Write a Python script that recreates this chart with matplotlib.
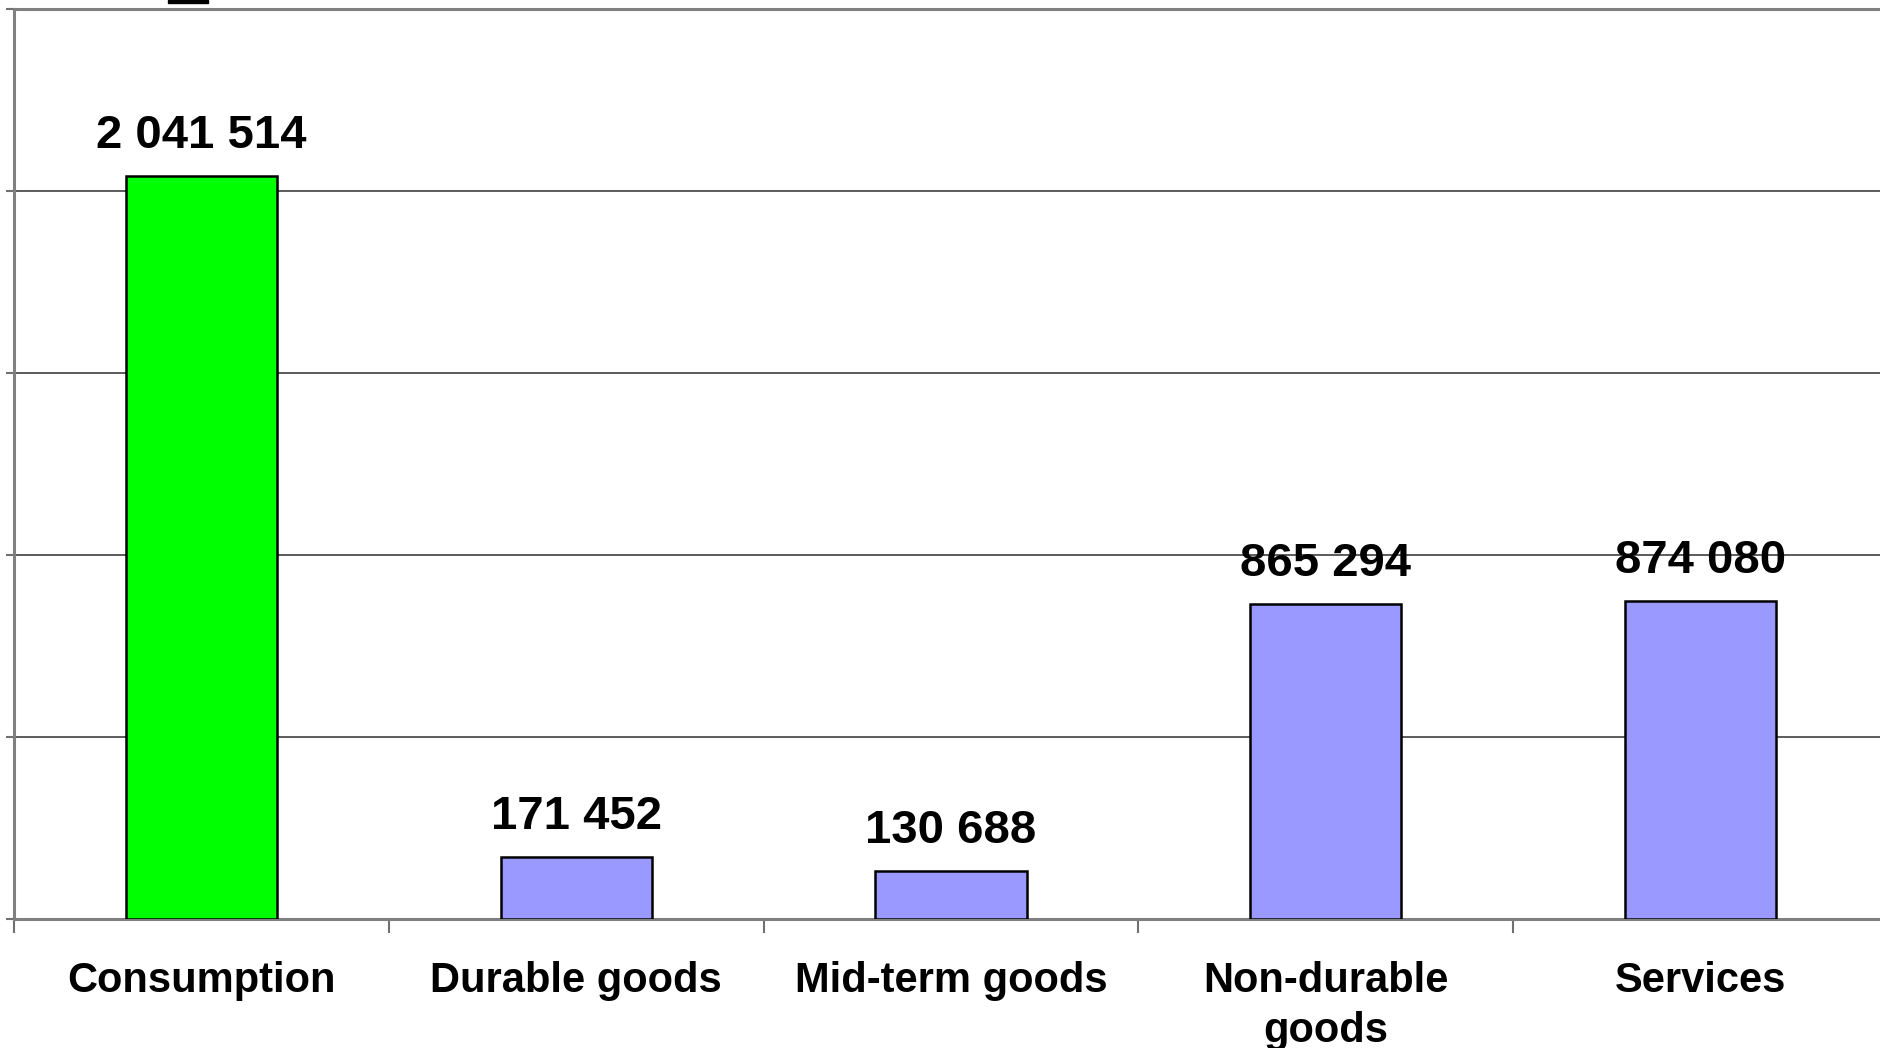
import matplotlib
matplotlib.use("Agg")
import numpy as np
import matplotlib.pyplot as plt
from matplotlib.patches import Rectangle

# data
categories = ["Consumption", "Durable goods", "Mid-term goods", "Non-durable\ngoods", "Services"]
values = [2041514, 171452, 130688, 865294, 874080]
bar_colors = ["#00FF00", "#9999FF", "#9999FF", "#9999FF", "#9999FF"]
y_ticks = [0, 500000, 1000000, 1500000, 2000000, 2500000]

plt.rcParams['font.family'] = ['Liberation Sans', 'DejaVu Sans']

fig = plt.figure(figsize=(18.8, 10.48), dpi=100)
ax = fig.add_axes([14 / 1880, 129 / 1048, 1874 / 1880, 910 / 1048])

x = np.arange(len(categories))
bars = ax.bar(x, values, width=0.403, color=bar_colors, edgecolor="black", linewidth=1.8, zorder=3)

# value labels above bars
for xi, v in zip(x, values):
    ax.annotate(f"{v:,}".replace(",", " "), (xi, v), xytext=(0, 13), textcoords="offset points",
                ha="center", va="bottom", fontsize=34, fontweight="bold", zorder=4)

ax.set_xlim(-0.5, len(categories) - 0.5)
ax.set_ylim(0, y_ticks[-1])

# grid & axes
ax.set_yticks(y_ticks)
ax.set_yticklabels([])
ax.yaxis.grid(True, color="#404040", linewidth=1.2, zorder=0)
ax.tick_params(axis="y", direction="out", length=6, width=1.5, color="#707070")

# category boundaries get the tick marks, labels go in the middle
ax.set_xticks(np.arange(len(categories) + 1) - 0.5)
ax.set_xticklabels([])
ax.tick_params(axis="x", which="major", direction="out", length=10, width=1.5, color="#707070")
ax.set_xticks(x, minor=True)
ax.set_xticklabels(categories, minor=True, fontsize=30, fontweight="bold", linespacing=1.32)
ax.tick_params(axis="x", which="minor", length=0, pad=30)

for side in ["left", "bottom", "top"]:
    ax.spines[side].set_color("#808080")
    ax.spines[side].set_linewidth(2.2)
ax.spines["right"].set_visible(False)

# small cut-off mark at the very top
fig.add_artist(Rectangle((168 / 1880, 1 - 3 / 1048), 40 / 1880, 3 / 1048,
                         transform=fig.transFigure, color="black"))

fig.savefig("out.png", dpi=100)
